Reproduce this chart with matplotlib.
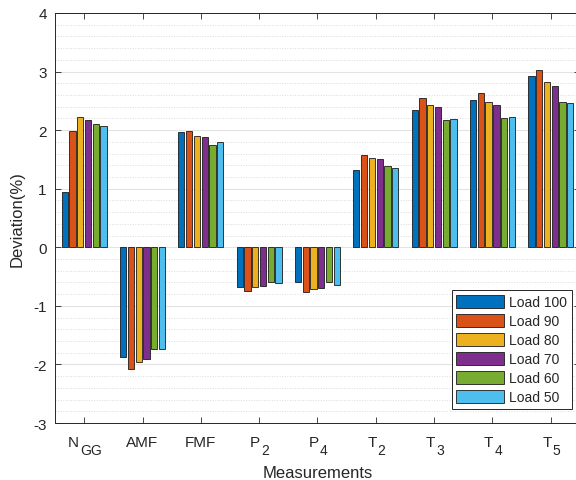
import matplotlib
matplotlib.use('Agg')
import matplotlib.pyplot as plt
import matplotlib.transforms as mtransforms
import numpy as np
from matplotlib.ticker import MultipleLocator

plt.rcParams['font.family'] = ['Liberation Sans', 'DejaVu Sans']

# measurement names (x categories): main letter + subscript
meas_main = ['N', 'AMF', 'FMF', 'P', 'P', 'T', 'T', 'T', 'T']
meas_sub = ['GG', '', '', '2', '4', '2', '3', '4', '5']
loads = ['Load 100', 'Load 90', 'Load 80', 'Load 70', 'Load 60', 'Load 50']

# deviation (%) per load, in the order of measurements
load_100 = [0.95, -1.88, 1.96, -0.68, -0.60, 1.32, 2.34, 2.52, 2.93]
load_90 = [1.98, -2.08, 1.98, -0.75, -0.76, 1.57, 2.55, 2.64, 3.02]
load_80 = [2.22, -1.96, 1.90, -0.68, -0.71, 1.53, 2.43, 2.48, 2.83]
load_70 = [2.18, -1.90, 1.88, -0.66, -0.70, 1.50, 2.39, 2.43, 2.75]
load_60 = [2.10, -1.74, 1.75, -0.60, -0.60, 1.38, 2.18, 2.21, 2.48]
load_50 = [2.07, -1.74, 1.79, -0.61, -0.64, 1.35, 2.19, 2.22, 2.47]

series = [load_100, load_90, load_80, load_70, load_60, load_50]
colors = ['#0072BD', '#D95319', '#EDB120', '#7E2F8E', '#77AC30', '#4DBEEE']
txt = '#262626'

fig = plt.figure(figsize=(5.76, 4.81), dpi=100)
ax = fig.add_axes([55/576, (481-424)/481, 525/576, 410/481])

x = np.arange(1, len(meas_main) + 1)
slot = 0.8 / 6
for i, (vals, c, lab) in enumerate(zip(series, colors, loads)):
    ax.bar(x + (i - 2.5) * slot, vals, width=0.8 * slot, color=c,
           edgecolor='#1a1a1a', linewidth=0.6, label=lab, zorder=3)

ax.set_xlim(0.5, 9.5)
ax.set_ylim(-3, 4)
ax.set_xticks(x)
ax.set_xticklabels([])
ax.set_yticks(np.arange(-3, 5, 1))
ax.set_yticklabels([str(v) for v in range(-3, 5)], fontsize=11, color=txt)
ax.yaxis.set_minor_locator(MultipleLocator(0.2))

ax.tick_params(which='major', direction='in', length=4, width=0.6, color=txt,
               top=True, right=True, pad=6)
ax.tick_params(which='minor', length=0)
ax.grid(axis='y', which='major', color='#e3e3e3', linewidth=0.8, zorder=0)
ax.grid(axis='y', which='minor', color='#dcdcdc', linestyle=':', linewidth=0.7, zorder=0)
ax.set_axisbelow(True)
for s in ax.spines.values():
    s.set_color(txt)
    s.set_linewidth(0.7)

ax.set_xlabel('Measurements', fontsize=12, color=txt)
ax.xaxis.label.set_va('baseline')
ax.xaxis.set_label_coords(0.5, -(478 - 424) / 410)
ax.set_ylabel('Deviation(%)', fontsize=12, color=txt, labelpad=6)

# x tick labels with MATLAB-like subscripts (lowered, nearly full size)
fig.canvas.draw()
rend = fig.canvas.get_renderer()
trans = mtransforms.blended_transform_factory(ax.transData, ax.transAxes)
for xi, m, sb in zip(x, meas_main, meas_sub):
    t1 = ax.text(xi, 0, m, transform=trans, fontsize=11, color=txt, ha='left', va='baseline')
    w1 = t1.get_window_extent(rend).width
    w2 = 0
    if sb:
        t2 = ax.text(xi, 0, sb, transform=trans, fontsize=10, color=txt, ha='left', va='baseline')
        w2 = t2.get_window_extent(rend).width
        t2.set_transform(mtransforms.offset_copy(trans, fig=fig, x=-(w1 + w2) / 2 + w1 + 1,
                                                 y=-31, units='dots'))
    t1.set_transform(mtransforms.offset_copy(trans, fig=fig, x=-(w1 + w2) / 2, y=-23, units='dots'))

leg = ax.legend(loc='lower right', bbox_to_anchor=(0.985, 0.034), borderaxespad=0,
                fontsize=10, handlelength=3.4, handleheight=1.0, labelspacing=0.36,
                handletextpad=0.4, borderpad=0.35, fancybox=False, framealpha=1)
leg.get_frame().set_edgecolor(txt)
leg.get_frame().set_linewidth(0.7)
for t in leg.get_texts():
    t.set_color(txt)

fig.savefig('out.png', dpi=100)
